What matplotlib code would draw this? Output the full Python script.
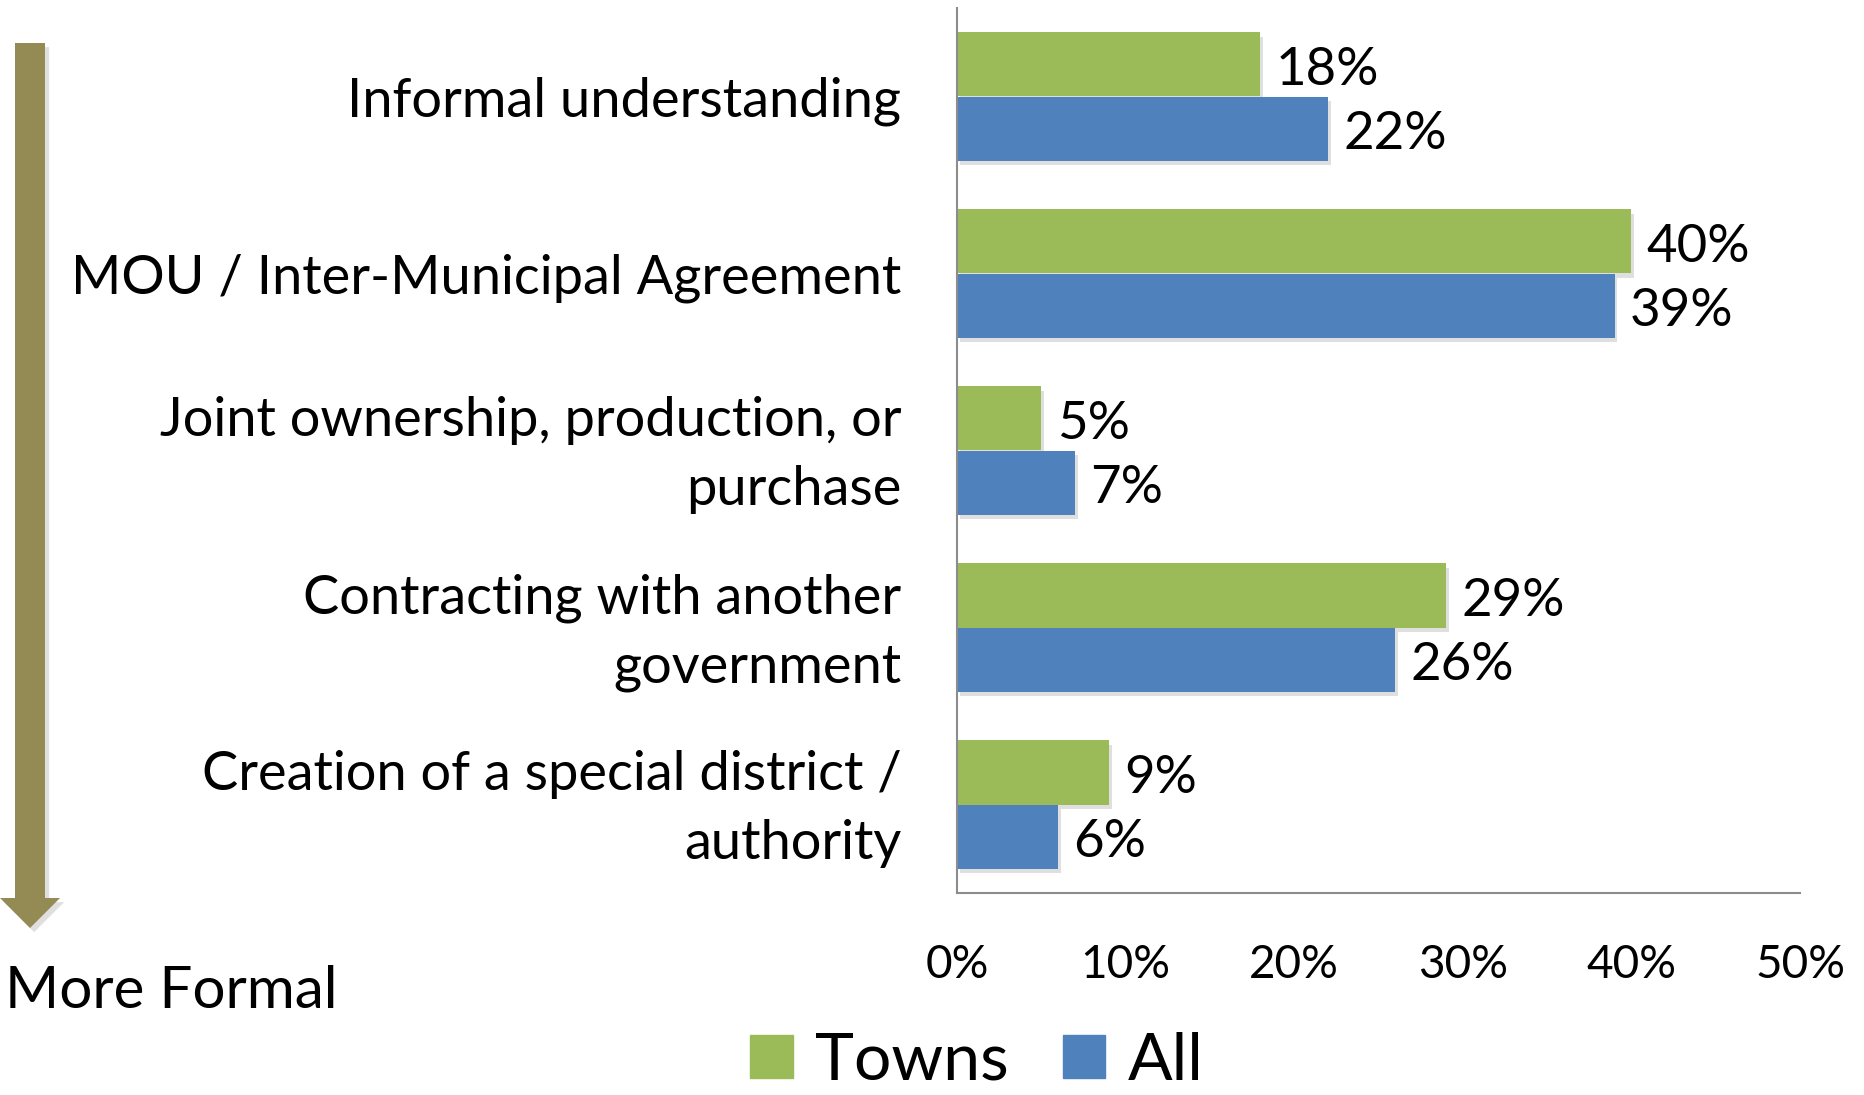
import matplotlib
matplotlib.use("Agg")
import matplotlib.pyplot as plt
import matplotlib.patheffects as pe
import matplotlib.transforms as mtransforms
from matplotlib.patches import Patch, Polygon
import numpy as np

# ---- data ----
categories = [
    "Informal understanding",
    "MOU / Inter-Municipal Agreement",
    "Joint ownership, production, or\npurchase",
    "Contracting with another\ngovernment",
    "Creation of a special district /\nauthority",
]
towns = [18, 40, 5, 29, 9]
all_vals = [22, 39, 7, 26, 6]
xticks = [0, 10, 20, 30, 40, 50]

GREEN = "#9BBB59"
BLUE = "#4F81BD"
OLIVE = "#948A54"

plt.rcParams["font.family"] = ["Lato", "DejaVu Sans"]

W, H = 1864, 1095
fig = plt.figure(figsize=(W / 100, H / 100), dpi=100)
ax = fig.add_axes([957 / W, 1 - 893 / H, (1800 - 957) / W, (893 - 8) / H])

y = np.arange(len(categories))
bh = 0.362
shadow = [pe.SimplePatchShadow(offset=(2, -3), alpha=0.25, shadow_rgbFace="gray"), pe.Normal()]
b1 = ax.barh(y - bh / 2, towns, height=bh, color=GREEN, path_effects=shadow)
b2 = ax.barh(y + bh / 2, all_vals, height=bh, color=BLUE, path_effects=shadow)

for bars, vals in ((b1, towns), (b2, all_vals)):
    for rect, v in zip(bars, vals):
        ax.annotate(f"{v}%", (rect.get_width(), rect.get_y() + rect.get_height() / 2),
                    xytext=(11, -4), textcoords="offset points",
                    va="center", ha="left", fontsize=38)

ax.set_xlim(0, 50)
ax.set_ylim(len(categories) - 0.5, -0.5)
ax.set_xticks(xticks)
ax.set_xticklabels([f"{t}%" for t in xticks], fontsize=33)
ax.set_yticks(y)
ax.set_yticklabels(categories, fontsize=39, linespacing=1.5)
ax.tick_params(axis="x", length=0, pad=37)
ax.tick_params(axis="y", length=0, pad=40)

# two-line labels sit a little high in the original
lift = mtransforms.ScaledTranslation(0, 7 / 72, fig.dpi_scale_trans)
for lab in ax.get_yticklabels():
    if "\n" in lab.get_text():
        lab.set_transform(lab.get_transform() + lift)

for s in ("top", "right"):
    ax.spines[s].set_visible(False)
for s in ("left", "bottom"):
    ax.spines[s].set_color("#8c8c8c")
    ax.spines[s].set_linewidth(1.5)

# "more formal" arrow on the left
pts = [(15, 43), (45, 43), (45, 898), (60, 898), (30, 928), (0, 898), (15, 898)]
arrow = Polygon([(px / W, 1 - py / H) for px, py in pts], closed=True,
                transform=fig.transFigure, facecolor=OLIVE, edgecolor="none",
                path_effects=[pe.SimplePatchShadow(offset=(3, -3), alpha=0.25, shadow_rgbFace="gray"), pe.Normal()])
fig.patches.append(arrow)
fig.text(5 / W, 1 - 1008 / H, "More Formal", fontsize=42, ha="left", va="baseline")

handles = [Patch(color=GREEN, label="Towns"), Patch(color=BLUE, label="All")]
fig.legend(handles=handles, loc="center", bbox_to_anchor=(977 / W, 1 - 1061 / H),
           ncol=2, frameon=False, fontsize=47.5, handlelength=0.64, handleheight=0.64,
           handletextpad=0.34, columnspacing=0.82, borderpad=0, borderaxespad=0)

fig.savefig("out.png", dpi=100)
